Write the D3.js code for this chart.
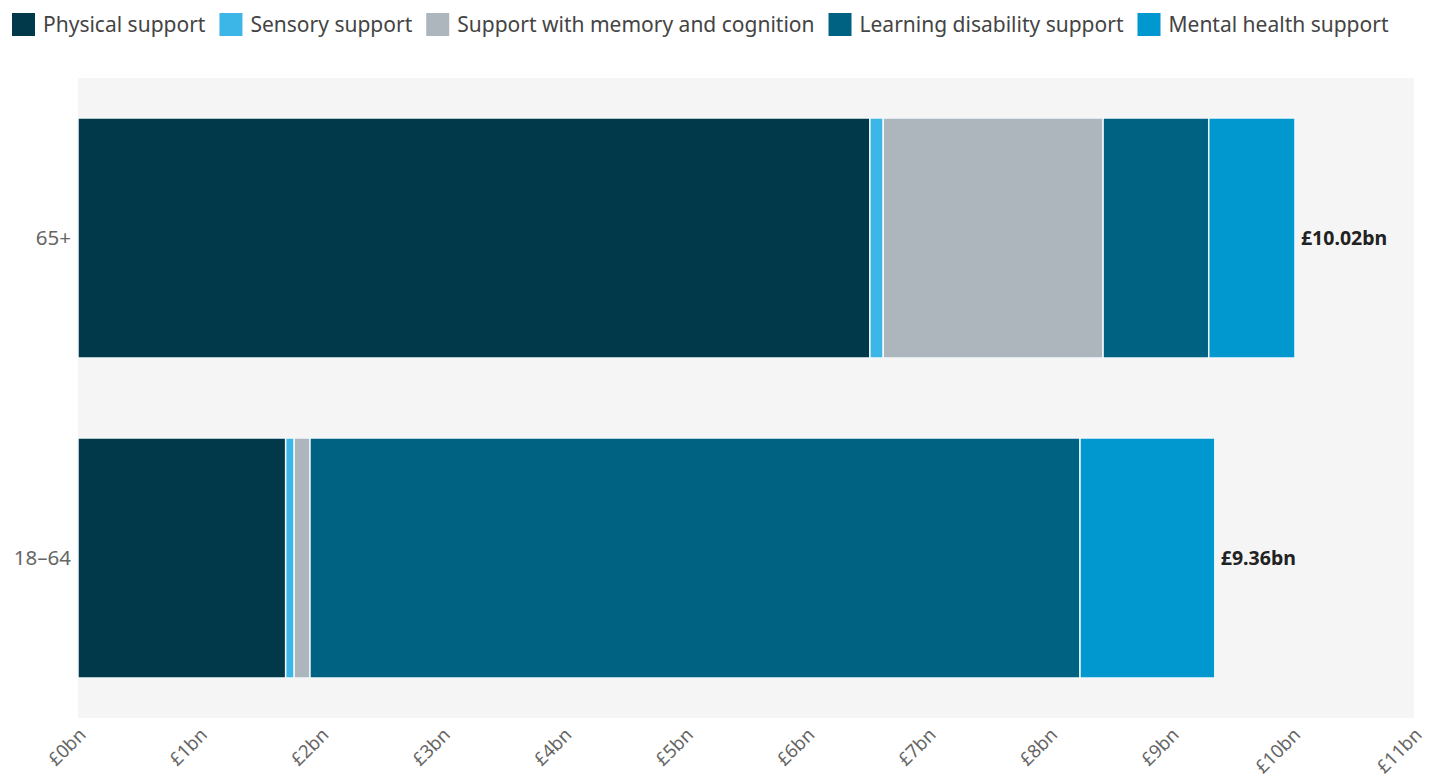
<!DOCTYPE html>
<html>
<head>
<meta charset="utf-8">
<script src="https://cdn.jsdelivr.net/npm/d3@7"></script>
<style>
  body { margin: 0; background: #fff; }
  svg { display: block; font-family: "Noto Sans", "Lato", sans-serif; }
</style>
</head>
<body>
<div id="chart"></div>
<script>

// ======================= //
// DATA
// ======================= //

var ageGroups = ["65+", "18\u201364"]
var supportTypes = ["Physical support", "Sensory support", "Support with memory and cognition", "Learning disability support", "Mental health support"]
var colours = ["#02394A", "#3BB6E6", "#AEB6BD", "#006283", "#0098CE"]

// £bn, one array per support type, in ageGroups order
var physical = [6.52, 1.71]
var sensory = [0.11, 0.07]
var memory = [1.81, 0.13]
var learning = [0.87, 6.34]
var mental = [0.71, 1.11]
var totalLabels = ["\u00a310.02bn", "\u00a39.36bn"]

var xTicks = [0, 1, 2, 3, 4, 5, 6, 7, 8, 9, 10, 11]

var series = [physical, sensory, memory, learning, mental]
var rows = ageGroups.map(function(g, i){
  var r = { group: g }
  supportTypes.forEach(function(s, j){ r[s] = series[j][i] })
  return r
})

// ======================= //
// SVG
// ======================= //

var W = 1429, H = 779
var margin = {top: 78, right: 15, bottom: 61, left: 78}
var width = W - margin.left - margin.right,
    height = H - margin.top - margin.bottom

var svg = d3.select("#chart").append("svg")
    .attr("width", W)
    .attr("height", H)

var g = svg.append("g")
    .attr("transform", "translate(" + margin.left + "," + margin.top + ")")

var x = d3.scaleLinear().domain([0, 11]).range([0, width])
var y = d3.scaleBand().domain(ageGroups).range([0, height])
    .paddingInner(0.25).paddingOuter(0.125)
var colour = d3.scaleOrdinal().domain(supportTypes).range(colours)

// plot background
g.append("rect")
    .attr("x", 0).attr("y", 0)
    .attr("width", width).attr("height", height)
    .attr("fill", "#f5f5f5")

// ======================= //
// BARS
// ======================= //

var stacked = d3.stack().keys(supportTypes)(rows)

g.append("g")
  .selectAll("g")
  .data(stacked)
  .enter().append("g")
    .attr("fill", function(d){ return colour(d.key) })
  .selectAll("rect")
  .data(function(d){ return d })
  .enter().append("rect")
    .attr("x", function(d){ return x(d[0]) })
    .attr("y", function(d){ return y(d.data.group) })
    .attr("width", function(d){ return Math.max(0, x(d[1]) - x(d[0])) })
    .attr("height", y.bandwidth())
    .attr("stroke", "#f2f8fb")
    .attr("stroke-width", 1.5)

// totals
g.selectAll(".total")
  .data(rows)
  .enter().append("text")
    .attr("class", "total")
    .attr("x", function(d){ return x(d3.sum(supportTypes, function(s){ return d[s] })) + 6 })
    .attr("y", function(d){ return y(d.group) + y.bandwidth() / 2 })
    .attr("dy", "0.35em")
    .style("font-size", "19.5px")
    .style("font-weight", "bold")
    .style("fill", "#222")
    .text(function(d, i){ return totalLabels[i] })

// ======================= //
// AXES
// ======================= //

g.selectAll(".ylab")
  .data(ageGroups)
  .enter().append("text")
    .attr("class", "ylab")
    .attr("x", -7)
    .attr("y", function(d){ return y(d) + y.bandwidth() / 2 })
    .attr("dy", "0.35em")
    .style("text-anchor", "end")
    .style("font-size", "20.5px")
    .style("fill", "#666")
    .text(function(d){ return d })

g.selectAll(".xlab")
  .data(xTicks)
  .enter().append("text")
    .attr("class", "xlab")
    .attr("transform", function(d){ return "translate(" + (x(d) + 9) + "," + (height + 18) + ") rotate(-45)" })
    .style("text-anchor", "end")
    .style("font-size", "18.5px")
    .style("fill", "#666")
    .text(function(d){ return "\u00a3" + d + "bn" })

// ======================= //
// LEGEND
// ======================= //

var legend = svg.append("g").attr("transform", "translate(12,13)")
var lx = 0
supportTypes.forEach(function(s){
  var item = legend.append("g").attr("transform", "translate(" + lx + ",0)")
  item.append("rect")
      .attr("width", 23).attr("height", 23)
      .attr("fill", colour(s))
  var t = item.append("text")
      .attr("x", 31).attr("y", 12)
      .attr("dy", "0.35em")
      .style("font-size", "21px")
      .style("fill", "#444")
      .text(s)
  lx += 31 + t.node().getComputedTextLength() + 14
})

</script>
</body>
</html>
